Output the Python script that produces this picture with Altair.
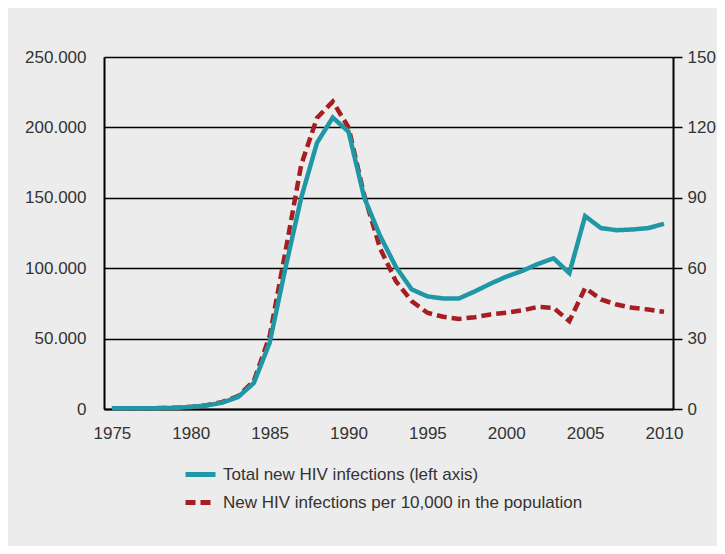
import altair as alt
import pandas as pd

years = list(range(1975, 2011))
total_new = [500, 500, 500, 600, 800, 1500, 2500, 4500, 8500, 18500,
             47000, 100000, 150000, 189000, 207000, 197000, 150000, 123000, 101000, 85000,
             80000, 78500, 78500, 83500, 89000, 94000, 98000, 103000, 107000, 96500,
             137000, 128500, 127000, 127500, 128500, 131500]
per_10000 = [0.3, 0.3, 0.3, 0.4, 0.5, 0.9, 1.6, 3.0, 5.5, 12,
             31, 67, 104, 124, 131, 120, 91, 68.5, 54.5, 46,
             41, 39.3, 38.4, 39.1, 40.3, 41, 42, 43.5, 43.1, 37.4,
             51.6, 46.7, 44.5, 43.1, 42.4, 41.4]

series_names = ["Total new HIV infections (left axis)",
                "New HIV infections per 10,000 in the population"]
series_colors = ["#1f97a5", "#a61e22"]
left_ticks = [0, 50000, 100000, 150000, 200000, 250000]
right_ticks = [0, 30, 60, 90, 120, 150]
x_ticks = [1975, 1980, 1985, 1990, 1995, 2000, 2005, 2010]

FONT = "Liberation Sans"
TXT = "#333333"

df_total = pd.DataFrame({"year": years, "value": total_new, "series": series_names[0]})
df_rate = pd.DataFrame({"year": years, "value": per_10000, "series": series_names[1]})

x_enc = alt.X("year:Q",
              scale=alt.Scale(domain=[1974.5, 2010.57], nice=False, zero=False),
              axis=alt.Axis(values=x_ticks, format="d", title=None, ticks=False, grid=False,
                            domainColor="black", domainWidth=2, labelPadding=16,
                            labelFontSize=17, labelColor=TXT, labelFont=FONT))


def make_legend():
    return alt.Legend(title=None, orient="none", legendX=79, legendY=400,
                      symbolType="stroke", symbolSize=900, symbolStrokeWidth=5,
                      labelFontSize=17, labelFont=FONT, labelColor=TXT,
                      labelOffset=5, rowPadding=-3, labelLimit=600)


color_enc = alt.Color("series:N",
                      scale=alt.Scale(domain=series_names, range=series_colors),
                      sort=series_names, legend=make_legend())
dash_enc = alt.StrokeDash("series:N",
                          scale=alt.Scale(domain=series_names, range=[[1, 0], [10, 5]]),
                          sort=series_names, legend=make_legend())

rate_line = alt.Chart(df_rate).mark_line(strokeWidth=4.5).encode(
    x=x_enc,
    y=alt.Y("value:Q",
            scale=alt.Scale(domain=[0, 150], nice=False),
            axis=alt.Axis(orient="right", values=right_ticks, title=None, grid=False,
                          tickSize=9, tickColor="black", tickWidth=1.5,
                          domainColor="black", domainWidth=2, labelPadding=5,
                          labelFontSize=17, labelColor=TXT, labelFont=FONT)),
    color=color_enc,
    strokeDash=dash_enc,
)

total_line = alt.Chart(df_total).mark_line(strokeWidth=4.5).encode(
    x=x_enc,
    y=alt.Y("value:Q",
            scale=alt.Scale(domain=[0, 250000], nice=False),
            axis=alt.Axis(orient="left", values=left_ticks, title=None, grid=True,
                          gridColor="black", gridWidth=1.5, gridOpacity=1,
                          ticks=False, domainColor="black", domainWidth=2, labelPadding=18,
                          labelExpr="replace(format(datum.value, ','), ',', '.')",
                          labelFontSize=17, labelColor=TXT, labelFont=FONT)),
    color=color_enc,
    strokeDash=dash_enc,
)

chart = alt.layer(rate_line, total_line).resolve_scale(
    y="independent"
).properties(
    width=569, height=352,
    autosize=alt.AutoSizeParams(type="none"),
    padding={"left": 96, "top": 49, "right": 44, "bottom": 137},
    background="#ececec",
).configure_view(strokeWidth=0)

chart.save("out.html", embed_options={"renderer": "svg", "actions": False})
